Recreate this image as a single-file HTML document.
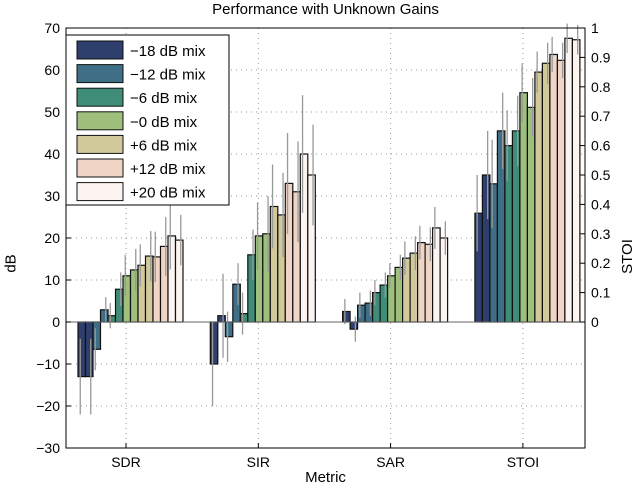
<!DOCTYPE html>
<html><head><meta charset="utf-8"><style>
body{margin:0;background:#fff;font-family:"Liberation Sans",sans-serif;}
svg text{font-family:"Liberation Sans",sans-serif;fill:#000;}
</style></head><body>
<svg id="chart" width="640" height="488" xmlns="http://www.w3.org/2000/svg"></svg>
<script>
const categories=["SDR","SIR","SAR","STOI"];
const legendLabels=["\u221218 dB mix","\u221212 dB mix","\u22126 dB mix","\u22120 dB mix","+6 dB mix","+12 dB mix","+20 dB mix"];
const sdrValues=[-13,-13,-6.5,2.9,1.5,7.8,11,12.4,13.5,15.7,15.5,18,20.5,19.5];
const sirValues=[-10,1.5,-3.5,9,2,16,20.5,21,27.5,25.5,33,31,40,35];
const sarValues=[2.5,-1.7,4,4.5,7,8.8,11,13,15.2,16.4,18.9,18.5,22.4,20];
const stoiValues=[0.37,0.50,0.47,0.65,0.60,0.65,0.78,0.73,0.85,0.88,0.91,0.89,0.965,0.96];
const sdrErr=[9,9,5,3,3,4,5,5,5,6,6,7,8,6];
const sirErr=[10,10,6,5,5,6,8,9,10,10,12,12,14,12];
const sarErr=[3,3,3,3,3,3,3,3,4,4,4,4,5,4];
const stoiErr=[0.13,0.15,0.15,0.13,0.12,0.12,0.1,0.1,0.07,0.07,0.06,0.06,0.05,0.05];
const yTicks=[-30,-20,-10,0,10,20,30,40,50,60,70];
const rTicks=[0,0.1,0.2,0.3,0.4,0.5,0.6,0.7,0.8,0.9,1];
const colors=["#2e3f6e","#3e6f86","#3f8c78","#9fbf7c","#d2c99b","#f0d5c6","#fbf4f1"];
const svg=document.getElementById('chart');
const NS="http://www.w3.org/2000/svg";
const L=66,R=585,T=28,B=448;
const y=v=>T+(70-v)*(B-T)/100;
const yr=v=>y(0)-v*(y(0)-T);
const cx=i=>126+i*132.3;
function mk(tag,attrs,parent){const e=document.createElementNS(NS,tag);for(const k in attrs)e.setAttribute(k,attrs[k]);(parent||svg).appendChild(e);return e;}
yTicks.forEach(t=>{const l=mk('line',{x1:L,x2:R,y1:y(t),y2:y(t),stroke:'#999','stroke-dasharray':'1,4'});});
categories.forEach((c,i)=>{const l=mk('line',{x1:cx(i),x2:cx(i),y1:T,y2:B,stroke:'#999','stroke-dasharray':'1,4'});});
const groups=[[sdrValues,sdrErr,false],[sirValues,sirErr,false],[sarValues,sarErr,false],[stoiValues,stoiErr,true]];
const bw=7.5;
groups.forEach((g,gi)=>{
  const [vals,errs,isR]=g;
  const x0=cx(gi)-48;
  vals.forEach((v,i)=>{
    const yy=isR?yr(v):y(v), y0=y(0);
    const r=mk('rect',{x:x0+i*bw,y:Math.min(yy,y0),width:bw,height:Math.abs(yy-y0),fill:colors[Math.floor(i/2)],stroke:'#111','stroke-width':1.2});
    
    
    const e=errs[i];const ya=isR?yr(v+e):y(v+e), yb=isR?yr(v-e):y(v-e);
    const xm=x0+i*bw+bw/2+(i%2?1.5:-1.5);
    const el=mk('line',{x1:xm,x2:xm,y1:ya,y2:yb,stroke:'#999','stroke-width':1.3});
    
    
  });
});
mk('line',{x1:L,x2:R,y1:y(0),y2:y(0),stroke:'#666','stroke-width':1});
const f=mk('rect',{x:L,y:T,width:R-L,height:B-T,fill:'none',stroke:'#000','stroke-width':1});

yTicks.forEach(t=>{mk('line',{x1:L,x2:L+5,y1:y(t),y2:y(t),stroke:'#000'});
 const tx=mk('text',{x:L-6,y:y(t)+5,'text-anchor':'end','font-size':14});tx.textContent=t<0?'\u2212'+(-t):t;
 });
rTicks.forEach(t=>{mk('line',{x1:R-5,x2:R,y1:yr(t),y2:yr(t),stroke:'#000'});
 const tx=mk('text',{x:R+6,y:yr(t)+5,'font-size':14});tx.textContent=String(t);
 });
categories.forEach((c,i)=>{mk('line',{x1:cx(i),x2:cx(i),y1:B-5,y2:B,stroke:'#000'});
 const tx=mk('text',{x:cx(i),y:B+19,'text-anchor':'middle','font-size':14});tx.textContent=c;
 });
const lg=mk('g',{});
mk('rect',{x:L,y:35,width:163,height:170,fill:'#fff',stroke:'#000'},lg);
legendLabels.forEach((s,i)=>{
  const yy=41+i*23.6;
  mk('rect',{x:77,y:yy,width:46,height:18,fill:colors[i],stroke:'#111'},lg);
  const tx=mk('text',{x:130,y:yy+15,'font-size':15},lg);tx.textContent=s;
  
});
</script>
<div style="position:absolute;left:0;top:0;width:640px;height:488px;pointer-events:none">
<div style="position:absolute;top:1px;left:66px;width:519px;text-align:center;font-size:15px">Performance with Unknown Gains</div>
<div style="position:absolute;top:469px;left:66px;width:519px;text-align:center;font-size:15px">Metric</div>
<div style="position:absolute;top:255px;left:2px;font-size:15px;transform:rotate(-90deg)">dB</div>
<div style="position:absolute;top:248px;left:610px;font-size:15px;transform:rotate(-90deg)">STOI</div>
</div>
</body></html>
